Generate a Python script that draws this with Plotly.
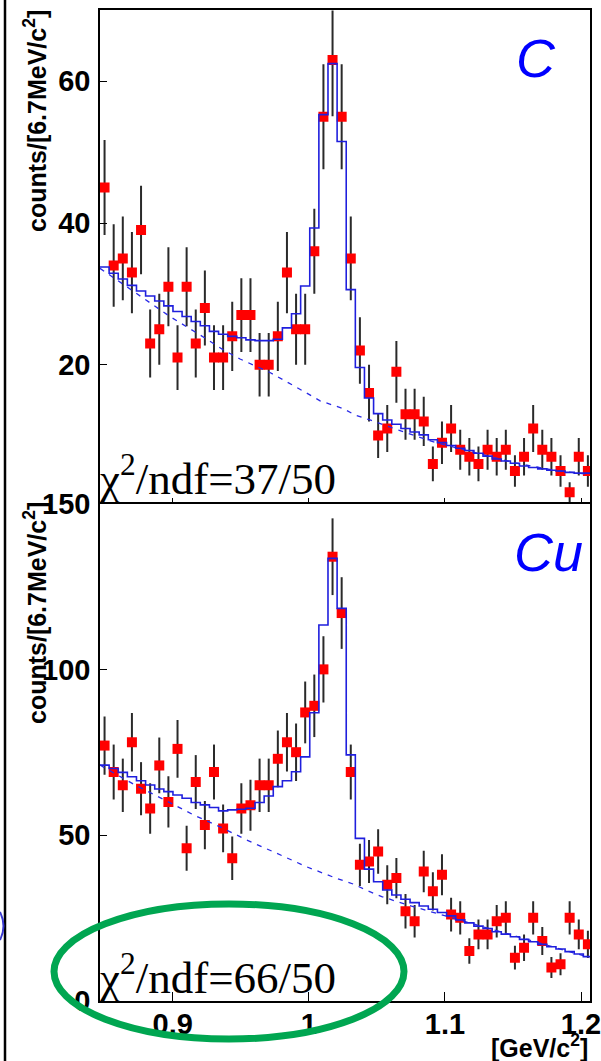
import numpy as np
import plotly.graph_objects as go

# Histogram binning: 6.7 MeV/c^2 bins starting at the lower edge of the mass window
BIN_LO = 0.8466
BIN_W = 0.0067
X_RANGE = [0.8466, 1.2066]

# Carbon target: counts per bin
c_counts = [45, 34, 35, 33, 39, 23, 25, 31, 21, 31, 23, 28, 21, 21, 24, 27, 27, 20,
            20, 24, 33, 25, 25, 36, 55, 63, 55, 35, 22, 16, 10, 11, 19, 13, 13, 12,
            6, 9, 11, 8, 7, 6, 8, 7, 8, 5, 7, 11, 8, 7, 5, 2, 7, 5]
# Carbon target: fitted function per bin (signal + background)
c_fit = [33.8, 32.9, 32.1, 31.2, 30.4, 29.7, 29.0, 28.3, 27.5, 26.8, 26.1, 25.5,
         24.7, 24.3, 24.0, 23.8, 23.5, 23.4, 23.4, 23.6, 25.2, 27.2, 31.1, 39.3,
         55.3, 62.5, 51.5, 30.6, 19.6, 15.3, 13.1, 12.2, 11.6, 11.0, 10.5, 10.1,
         9.4, 9.0, 8.6, 8.2, 7.9, 7.5, 7.1, 6.7, 6.4, 6.1, 5.7, 5.5, 5.3, 5.1,
         5.0, 4.8, 4.7, 4.7]
# Carbon target: background component of the fit
c_bg_mass = [0.8466, 0.8784, 0.8980, 0.9201, 0.9372, 0.9495, 0.9715, 0.9911,
             1.0083, 1.0254, 1.0340, 1.0450, 1.0548, 1.0670, 1.0900, 1.1200,
             1.1500, 1.1800, 1.2066]
c_bg = [33.6, 29.4, 26.8, 24.2, 22.1, 20.8, 18.9, 16.8, 14.9, 13.8, 12.9, 12.2,
        11.5, 10.7, 9.2, 7.7, 6.2, 5.1, 4.5]

# Copper target: counts per bin
cu_counts = [77, 69, 65, 78, 64, 58, 71, 60, 76, 46, 66, 53, 69, 52, 43, 58, 59, 65,
             65, 73, 78, 75, 87, 89, 100, 134, 117, 69, 41, 42, 45, 35, 37, 27, 24, 39,
             33, 38, 26, 25, 15, 20, 20, 24, 25, 13, 16, 25, 18, 10, 11, 25, 20, 17]
# Copper target: fitted function per bin (signal + background)
cu_fit = [71.1, 70.1, 68.9, 67.6, 66.4, 65.1, 63.9, 63.1, 62.1, 61.1, 59.8, 59.1,
          58.3, 57.3, 57.6, 57.8, 58.1, 59.8, 61.8, 64.6, 66.4, 69.1, 73.6, 86.9,
          113.4, 133.5, 118.4, 74.2, 49.0, 39.7, 35.9, 33.4, 31.9, 30.6, 29.6, 28.6,
          27.6, 26.6, 25.6, 24.4, 23.5, 22.5, 21.8, 20.8, 20.1, 19.3, 18.5, 17.8,
          17.0, 16.3, 15.6, 14.8, 14.1, 13.3]
# Copper target: background component of the fit
cu_bg_mass = [0.8466, 0.8711, 0.8931, 0.9152, 0.9372, 0.9544, 0.9764, 0.9985,
              1.0205, 1.0327, 1.0437, 1.0536, 1.0750, 1.1000, 1.1250, 1.1500,
              1.1750, 1.2066]
cu_bg = [71.1, 65.4, 60.8, 56.1, 52.0, 48.5, 44.5, 40.4, 36.9, 35.2, 33.1, 31.4,
         28.6, 25.6, 22.6, 19.6, 16.6, 13.0]

x_tickvals = [0.9, 1.0, 1.1, 1.2]
x_ticktext = ["0.9", "1", "1.1", "1.2"]
c_yticks = [20, 40, 60]
cu_yticks = [0, 50, 100, 150]

W, H = 601, 1061
n_bins = len(c_counts)
centers = BIN_LO + BIN_W * (np.arange(n_bins) + 0.5)
edges = BIN_LO + BIN_W * np.arange(n_bins + 1)

BLUE = "#1f1fdd"
RED = "#ff0000"
ERR = "#2a2a2a"


def panel_traces(counts, fit, bg_x, bg_y, xa, ya):
    counts = np.asarray(counts, dtype=float)
    data = go.Scatter(
        x=centers, y=counts, mode="markers", xaxis=xa, yaxis=ya,
        marker=dict(symbol="square", size=10, color=RED, line=dict(width=0)),
        error_y=dict(type="data", array=np.sqrt(counts), width=0,
                     thickness=2, color=ERR),
        showlegend=False, hoverinfo="skip")
    bg = go.Scatter(
        x=bg_x, y=bg_y, mode="lines", xaxis=xa, yaxis=ya,
        line=dict(color="#2a2ae6", width=1.3, dash="5px,6px"),
        showlegend=False, hoverinfo="skip")
    step = go.Scatter(
        x=edges, y=list(fit) + [fit[-1]], mode="lines", xaxis=xa, yaxis=ya,
        line=dict(color=BLUE, width=1.6, shape="hv"),
        showlegend=False, hoverinfo="skip")
    return [data, bg, step]


fig = go.Figure()
for tr in panel_traces(c_counts, c_fit, c_bg_mass, c_bg, "x", "y"):
    fig.add_trace(tr)
for tr in panel_traces(cu_counts, cu_fit, cu_bg_mass, cu_bg, "x2", "y2"):
    fig.add_trace(tr)


def px_x(p):
    return p / W


def px_y(p):
    return 1 - p / H


frame = dict(showline=True, mirror=True, linecolor="black", linewidth=1.6,
             showgrid=False, zeroline=False, ticks="inside", tickcolor="black",
             tickwidth=1.3, automargin=False, ticklabeloverflow="allow")
tick_font = dict(family="Liberation Sans", size=29, color="black", weight="bold")

fig.update_layout(
    width=W, height=H, margin=dict(l=0, r=0, t=0, b=0),
    paper_bgcolor="white", plot_bgcolor="white",
    xaxis=dict(domain=[px_x(100), px_x(590)], range=X_RANGE, anchor="y",
               tickvals=x_tickvals, showticklabels=False, ticklen=9, **frame),
    yaxis=dict(domain=[px_y(506.4), px_y(10.45)], range=[0, 70], anchor="x",
               tickvals=c_yticks, ticklen=7, tickfont=tick_font,
               ticklabelstandoff=2, **frame),
    xaxis2=dict(domain=[px_x(100), px_x(590)], range=X_RANGE, anchor="y2",
                tickvals=x_tickvals, ticktext=x_ticktext, ticklen=9,
                tickfont=tick_font, ticklabelstandoff=-3, **frame),
    yaxis2=dict(domain=[px_y(1000.7), px_y(503.7)], range=[0, 150], anchor="x2",
                tickvals=cu_yticks, ticklen=7, tickfont=tick_font,
                ticklabelstandoff=2, **frame),
)

ytitle = "counts/[6.7MeV/c<sup>2</sup>]"
title_font = dict(family="Liberation Sans", size=25, color="black", weight="bold")
serif = dict(family="Liberation Serif", size=45, color="black")
label_font = dict(family="Liberation Sans", size=54, color="#0000ff", style="italic")

annotations = [
    dict(text=ytitle, textangle=-90, x=px_x(35), y=px_y(121), font=title_font),
    dict(text=ytitle, textangle=-90, x=px_x(35), y=px_y(613), font=title_font),
    dict(text="[GeV/c<sup>2</sup>]", x=px_x(590), y=px_y(1046), xanchor="right",
         font=title_font),
    dict(text="χ<sup>2</sup>/ndf=37/50", x=px_x(97), y=px_y(506), xanchor="left",
         yanchor="bottom", font=serif),
    dict(text="χ<sup>2</sup>/ndf=66/50", x=px_x(97), y=px_y(1005), xanchor="left",
         yanchor="bottom", font=serif),
    dict(text="C", x=px_x(514), y=px_y(58), xanchor="left", font=label_font),
    dict(text="Cu", x=px_x(512), y=px_y(552), xanchor="left", font=label_font),
]
for a in annotations:
    a.update(xref="paper", yref="paper", showarrow=False)
    a.setdefault("xanchor", "center")
    a.setdefault("yanchor", "middle")
fig.update_layout(annotations=annotations)

# Page edge rule, stray bracket at the margin and the highlight ellipse
fig.add_shape(type="line", xref="paper", yref="paper",
              x0=px_x(5), x1=px_x(5), y0=0, y1=1,
              line=dict(color="black", width=2.5))
fig.add_shape(type="path", xref="paper", yref="paper",
              path=f"M {px_x(0)},{px_y(912)} Q {px_x(7)},{px_y(926)} {px_x(0)},{px_y(940)}",
              line=dict(color="#3a3ad0", width=2))
fig.add_shape(type="circle", xref="paper", yref="paper",
              x0=px_x(54), x1=px_x(404), y0=px_y(1039), y1=px_y(904),
              line=dict(color="#00a651", width=7))

fig.write_html("out.html")
